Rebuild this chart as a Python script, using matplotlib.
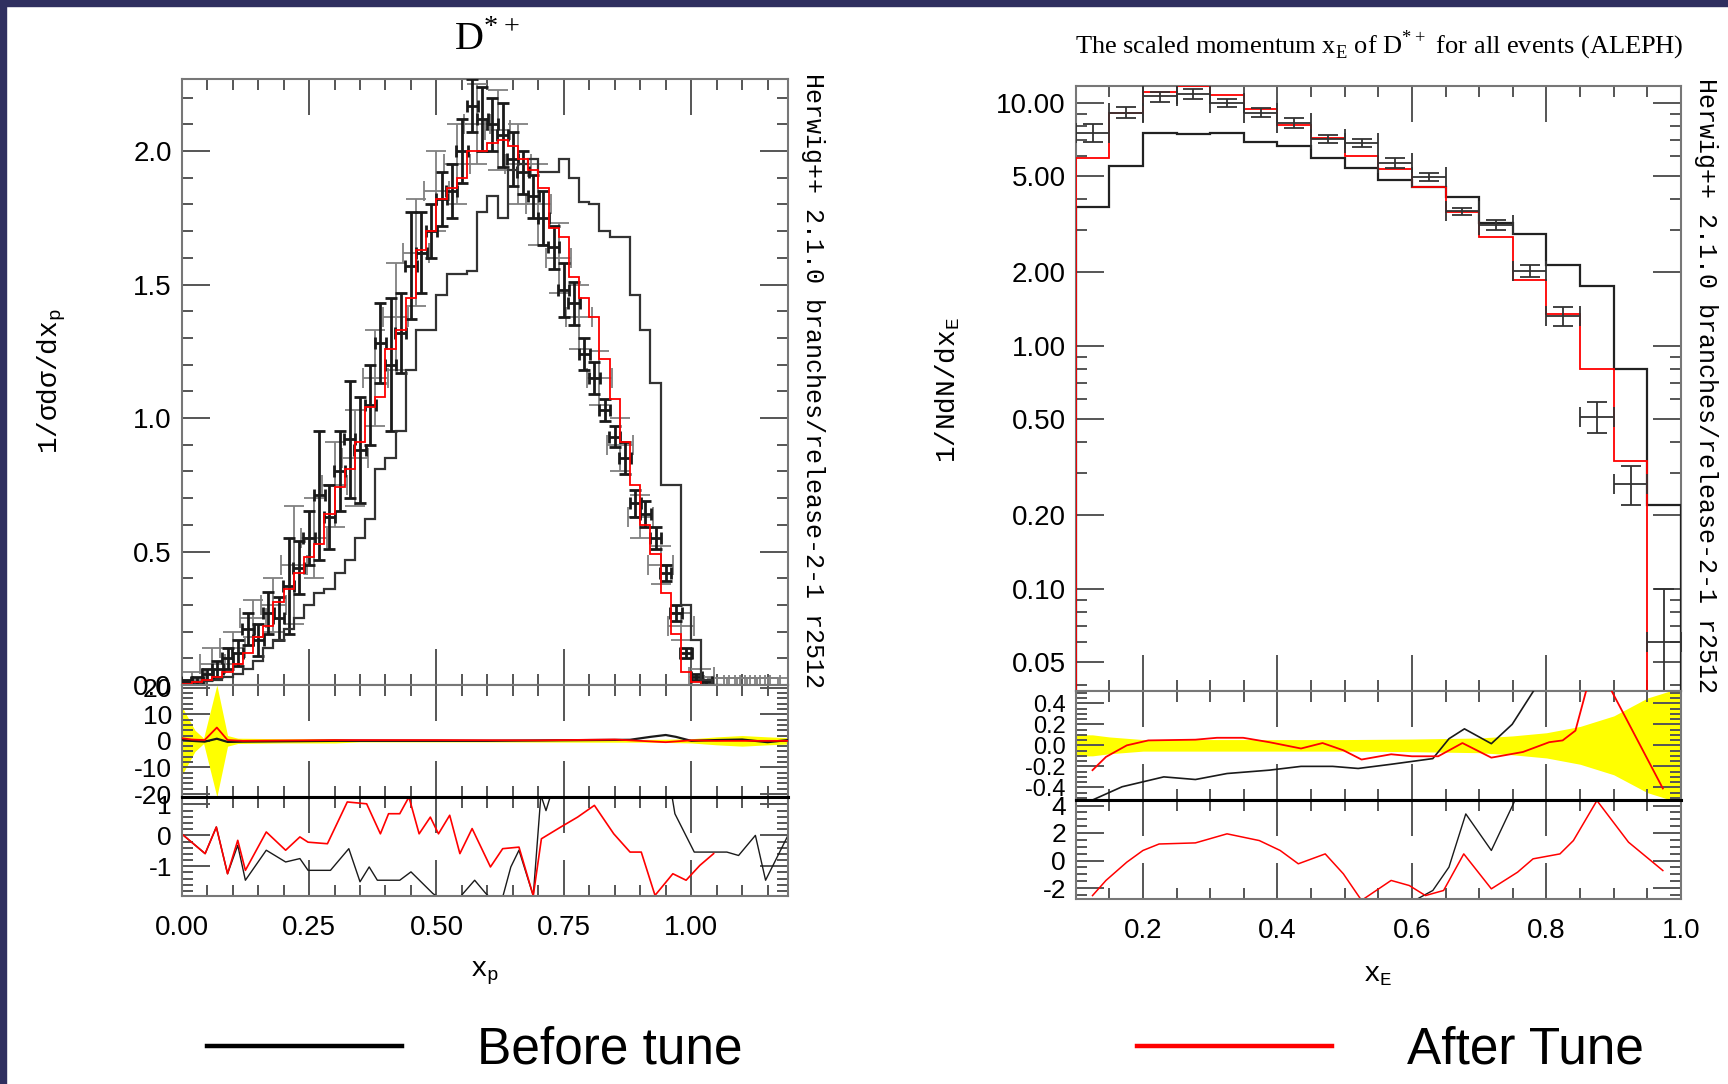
import numpy as np
import matplotlib
matplotlib.use('Agg')
import matplotlib.pyplot as plt
from matplotlib.patches import Rectangle
from matplotlib.lines import Line2D
from matplotlib.ticker import MultipleLocator, FixedLocator, FormatStrFormatter, NullFormatter

plt.rcParams['font.family'] = ['Liberation Sans Narrow', 'Liberation Sans', 'DejaVu Sans']
plt.rcParams['mathtext.fontset'] = 'custom'
plt.rcParams['mathtext.rm'] = 'Liberation Serif'
plt.rcParams['mathtext.tt'] = 'Liberation Mono'

W, H = 1728, 1084
NAVY = '#2f2f5f'
RED = '#ff0000'
DARK = '#1a1a1a'

# ---- left panel: D*+ x_p ----
xp_width = 0.02
xp_after = [0.005, 0.01, 0.02, 0.03, 0.05, 0.08, 0.12, 0.18, 0.22, 0.31,
            0.36, 0.42, 0.48, 0.53, 0.64, 0.74, 0.81, 0.91, 1.04, 1.08,
            1.26, 1.33, 1.45, 1.63, 1.70, 1.82, 1.86, 1.90, 2.00, 2.00,
            2.03, 2.04, 2.02, 1.97, 1.93, 1.86, 1.71, 1.68, 1.53, 1.45,
            1.38, 1.22, 1.07, 0.91, 0.75, 0.60, 0.49, 0.345, 0.19, 0.05,
            0.01, 0.0, 0.0]
xp_before = [0.005, 0.01, 0.015, 0.02, 0.03, 0.04, 0.06, 0.09, 0.14, 0.17,
             0.21, 0.25, 0.30, 0.345, 0.36, 0.42, 0.47, 0.55, 0.62, 0.81,
             0.85, 0.95, 1.18, 1.33, 1.33, 1.46, 1.54, 1.54, 1.55, 1.77,
             1.83, 1.75, 1.93, 1.95, 1.97, 1.92, 1.92, 1.97, 1.90, 1.81,
             1.80, 1.70, 1.68, 1.68, 1.46, 1.33, 1.13, 0.75, 0.75, 0.30,
             0.17, 0.02, 0.0]

xp_data_a_x = [0.01, 0.03, 0.05, 0.07, 0.09, 0.11, 0.13, 0.15, 0.17, 0.19,
               0.21, 0.23, 0.25, 0.27, 0.29, 0.31, 0.33, 0.35, 0.37, 0.39,
               0.41, 0.43, 0.45, 0.47, 0.49, 0.51, 0.53, 0.55, 0.57, 0.59,
               0.61, 0.63, 0.65, 0.67, 0.69, 0.71, 0.73, 0.75, 0.77, 0.79,
               0.81, 0.83, 0.85, 0.87, 0.89, 0.91, 0.93, 0.95, 0.97, 0.99,
               1.01, 1.03]
xp_data_a_y = [0.01, 0.01, 0.04, 0.06, 0.10, 0.12, 0.21, 0.17, 0.27, 0.25,
               0.37, 0.44, 0.55, 0.71, 0.63, 0.80, 0.92, 0.88, 1.05, 1.28,
               1.20, 1.32, 1.57, 1.62, 1.70, 1.82, 1.85, 2.00, 2.17, 2.12,
               2.10, 2.06, 1.97, 1.92, 1.83, 1.75, 1.64, 1.48, 1.43, 1.24,
               1.15, 1.03, 0.93, 0.85, 0.68, 0.64, 0.55, 0.42, 0.27, 0.12,
               0.03, 0.01]
xp_data_a_err = [0.01, 0.02, 0.02, 0.03, 0.04, 0.05, 0.06, 0.06, 0.08, 0.08,
                 0.18, 0.10, 0.10, 0.24, 0.12, 0.15, 0.22, 0.20, 0.15, 0.15,
                 0.25, 0.15, 0.20, 0.15, 0.10, 0.10, 0.10, 0.12, 0.10, 0.12,
                 0.10, 0.12, 0.10, 0.08, 0.08, 0.10, 0.08, 0.10, 0.08, 0.06,
                 0.06, 0.04, 0.04, 0.06, 0.05, 0.05, 0.04, 0.03, 0.03, 0.02,
                 0.01, 0.01]

xp_data_b_x = [0.02, 0.06, 0.10, 0.14, 0.18, 0.22, 0.26, 0.30, 0.34, 0.38,
               0.42, 0.46, 0.50, 0.54, 0.58, 0.62, 0.66, 0.70, 0.74, 0.78,
               0.82, 0.86, 0.90, 0.94, 0.98, 1.02, 1.05, 1.07, 1.09, 1.11,
               1.13, 1.15, 1.17]
xp_data_b_y = [0.02, 0.08, 0.14, 0.25, 0.30, 0.45, 0.55, 0.75, 0.85, 1.15,
               1.38, 1.62, 1.85, 1.95, 2.10, 2.08, 1.95, 1.80, 1.60, 1.38,
               1.15, 0.90, 0.63, 0.45, 0.22, 0.03, 0.0, 0.0, 0.0, 0.0,
               0.0, 0.0, 0.0]
xp_data_b_err = [0.03, 0.06, 0.06, 0.07, 0.10, 0.22, 0.15, 0.16, 0.18, 0.18,
                 0.20, 0.20, 0.15, 0.15, 0.15, 0.15, 0.15, 0.15, 0.13, 0.12,
                 0.10, 0.10, 0.08, 0.07, 0.05, 0.03, 0.025, 0.025, 0.025, 0.025,
                 0.025, 0.025, 0.025]

# ratio (MC-data)/data, left
xp_band_x = [0.0, 0.026, 0.043, 0.069, 0.09, 0.11, 0.2, 0.3, 0.35, 0.6,
             0.8, 0.9, 0.95, 1.0, 1.05, 1.1, 1.15, 1.19]
xp_band_hw = [13, 4, 1, 21, 2, 1.0, 0.8, 0.8, 0.4, 0.4,
              0.5, 0.5, 0.6, 0.8, 1.5, 2.0, 1.5, 1.2]
xp_r1_after_x = [0.0, 0.02, 0.045, 0.069, 0.09, 0.12, 0.3, 0.5, 0.7, 0.85,
                 0.9, 0.95, 1.0, 1.05, 1.19]
xp_r1_after_y = [1.0, 0.5, 0.3, 5.0, 0.3, 0.0, 0.3, 0.3, 0.2, 0.5,
                 0.0, -0.5, 0.2, 0.0, 0.0]
xp_r1_before_x = [0.0, 0.02, 0.045, 0.069, 0.09, 0.12, 0.3, 0.6, 0.8, 0.88,
                  0.92, 0.95, 0.97, 1.0, 1.05, 1.1, 1.15, 1.19]
xp_r1_before_y = [0.5, 0.0, -0.3, 0.8, -0.4, -0.3, 0.0, 0.0, 0.3, 0.4,
                  1.5, 2.2, 1.5, 0.0, 0.3, 0.5, -0.5, 0.3]

# pull (MC-data)/error, left
xp_r2_after_x = [0.0, 0.046, 0.068, 0.09, 0.11, 0.125, 0.166, 0.204, 0.232, 0.248,
                 0.286, 0.325, 0.363, 0.39, 0.406, 0.428, 0.446, 0.466, 0.488, 0.504,
                 0.526, 0.546, 0.57, 0.606, 0.63, 0.662, 0.69, 0.706, 0.744, 0.777,
                 0.81, 0.848, 0.88, 0.902, 0.929, 0.964, 0.99, 1.017, 1.044]
xp_r2_after_y = [0.05, -0.59, 0.27, -1.24, -0.16, -1.13, 0.11, -0.48, -0.05, -0.22,
                 -0.27, 1.08, 1.02, 0.05, 0.7, 0.7, 1.24, 0.05, 0.59, 0.05,
                 0.65, -0.59, 0.22, -1.02, -0.43, -0.38, -1.95, -0.11, 0.27, 0.59,
                 0.97, 0.05, -0.54, -0.54, -1.94, -1.24, -1.45, -0.97, -0.59]
xp_r2_before_x = [0.0, 0.046, 0.068, 0.09, 0.11, 0.125, 0.166, 0.204, 0.232, 0.248,
                  0.292, 0.328, 0.35, 0.368, 0.384, 0.428, 0.45, 0.493, 0.53, 0.575,
                  0.597, 0.625, 0.646, 0.662, 0.69, 0.705, 0.715, 0.728, 0.75, 0.95,
                  0.968, 1.006, 1.07, 1.093, 1.126, 1.146, 1.19]
xp_r2_before_y = [0.05, -0.59, 0.27, -1.24, -0.32, -1.45, -0.48, -0.86, -0.75, -1.13,
                  -1.13, -0.43, -1.5, -1.02, -1.45, -1.45, -1.18, -1.88, -2.3, -1.45,
                  -1.88, -2.3, -1.02, -0.48, -1.95, 1.3, 0.8, 1.5, 2.5, 2.5,
                  0.7, -0.54, -0.54, -0.65, 0.0, -1.45, 0.0]

# ---- right panel: ALEPH x_E ----
xe_edges = [0.10, 0.15, 0.20, 0.25, 0.30, 0.35, 0.40, 0.45, 0.50, 0.55,
            0.60, 0.65, 0.70, 0.75, 0.80, 0.85, 0.90, 0.95, 1.00]
xe_data = [7.5, 9.1, 10.6, 10.85, 9.95, 9.1, 8.25, 7.08, 6.81, 5.65,
           4.95, 3.57, 3.14, 2.03, 1.32, 0.51, 0.27, 0.06]
xe_err = [0.65, 0.5, 0.5, 0.5, 0.35, 0.4, 0.4, 0.25, 0.25, 0.25,
          0.2, 0.12, 0.15, 0.12, 0.12, 0.075, 0.05, 0.04]
xe_after = [5.9, 9.1, 11.1, 11.7, 10.7, 9.44, 8.1, 7.17, 6.02, 5.33,
            4.5, 3.55, 2.81, 1.86, 1.35, 0.80, 0.334, 0.01]
xe_before = [3.7, 5.5, 7.5, 7.4, 7.5, 6.9, 6.6, 5.9, 5.4, 4.8,
             4.5, 4.07, 3.2, 2.88, 2.15, 1.76, 0.80, 0.22]

xe_band_x = [0.10, 0.125, 0.15, 0.2, 0.3, 0.5, 0.6, 0.7, 0.75, 0.8,
             0.85, 0.9, 0.95, 1.0]
xe_band_hw = [0.10, 0.10, 0.08, 0.055, 0.055, 0.055, 0.06, 0.07, 0.09, 0.12,
              0.18, 0.28, 0.45, 0.55]
xe_r1_after_x = [0.125, 0.145, 0.176, 0.208, 0.278, 0.31, 0.349, 0.388, 0.435, 0.467,
                 0.498, 0.525, 0.569, 0.6, 0.639, 0.675, 0.718, 0.765, 0.804, 0.824,
                 0.843, 0.859, 0.89, 0.92, 0.973]
xe_r1_after_y = [-0.236, -0.11, 0.0, 0.047, 0.054, 0.072, 0.072, 0.03, -0.03, 0.022,
                 -0.047, -0.135, -0.085, -0.104, -0.104, 0.022, -0.117, -0.063, 0.03, 0.047,
                 0.14, 0.52, 0.6, 0.236, -0.41]
xe_r1_before_x = [0.125, 0.169, 0.231, 0.278, 0.325, 0.388, 0.435, 0.482, 0.52, 0.569,
                  0.631, 0.655, 0.678, 0.718, 0.749, 0.784]
xe_r1_before_y = [-0.52, -0.394, -0.3, -0.325, -0.268, -0.236, -0.2, -0.2, -0.22, -0.18,
                  -0.126, 0.063, 0.157, 0.016, 0.2, 0.55]
xe_r2_after_x = [0.125, 0.145, 0.176, 0.2, 0.224, 0.278, 0.325, 0.373, 0.404, 0.431,
                 0.471, 0.498, 0.525, 0.569, 0.596, 0.62, 0.647, 0.677, 0.718, 0.757,
                 0.78, 0.82, 0.84, 0.875, 0.922, 0.973]
xe_r2_after_y = [-2.55, -1.45, -0.12, 0.73, 1.2, 1.28, 1.94, 1.45, 0.73, -0.24,
                 0.48, -0.97, -2.9, -1.45, -1.82, -2.55, -2.18, 0.48, -2.06, -0.85,
                 0.12, 0.48, 1.45, 4.36, 1.33, -0.73]
xe_r2_before_x = [0.59, 0.604, 0.631, 0.655, 0.68, 0.718, 0.753, 0.77]
xe_r2_before_y = [-3.5, -2.9, -2.18, -0.48, 3.39, 0.73, 4.36, 6.0]

HERWIG = 'Herwig++ 2.1.0 branches/release-2-1 r2512'


def rect(x0, x1, y0, y1):
    return [x0 / W, 1 - y1 / H, (x1 - x0) / W, (y1 - y0) / H]


def style(ax, xmaj, xmin, ymaj=None, ymin=None, yfmt='%.1f', xfmt=None, ysize=20):
    ax.tick_params(which='both', direction='in', top=True, right=True,
                   color='#555555', width=1.4, labelsize=20, pad=7)
    ax.tick_params(axis='y', labelsize=ysize)
    ax.tick_params(axis='x', which='major', length=26, pad=14)
    ax.tick_params(axis='y', which='major', length=20)
    ax.tick_params(which='minor', length=8)
    ax.xaxis.set_major_locator(MultipleLocator(xmaj))
    ax.xaxis.set_minor_locator(MultipleLocator(xmin))
    if xfmt:
        ax.xaxis.set_major_formatter(FormatStrFormatter(xfmt))
    else:
        ax.xaxis.set_major_formatter(NullFormatter())
    if ymaj is not None:
        ax.yaxis.set_major_locator(MultipleLocator(ymaj))
        ax.yaxis.set_minor_locator(MultipleLocator(ymin))
        ax.yaxis.set_major_formatter(FormatStrFormatter(yfmt))
    for s in ax.spines.values():
        s.set_color('#777777')
        s.set_linewidth(1.5)


fig = plt.figure(figsize=(W / 100, H / 100), dpi=100, facecolor='white')
fig.add_artist(Rectangle((0, 1 - 6 / H), 1, 6 / H, transform=fig.transFigure,
                         color=NAVY, zorder=0))
fig.add_artist(Rectangle((0, 0), 6 / W, 1, transform=fig.transFigure,
                         color=NAVY, zorder=0))

# ===== left =====
axl = fig.add_axes(rect(181.7, 788, 79, 685))
axl1 = fig.add_axes(rect(181.7, 788, 685, 796.7))
axl2 = fig.add_axes(rect(181.7, 788, 796.7, 895.7))

xp_edges = np.round(np.arange(len(xp_after) + 1) * xp_width, 3)
axl.errorbar(xp_data_b_x, xp_data_b_y, yerr=xp_data_b_err, xerr=0.025, fmt='none',
             ecolor='#808080', elinewidth=1.3, capsize=7, capthick=1.3, zorder=2)
axl.errorbar(xp_data_a_x, xp_data_a_y, yerr=xp_data_a_err, xerr=0.011, fmt='none',
             ecolor=DARK, elinewidth=2.0, capsize=4, capthick=2.0, zorder=3)
axl.stairs(xp_before, xp_edges, color='#333333', lw=1.6, zorder=4)
axl.stairs(xp_after, xp_edges, color=RED, lw=1.3, zorder=5)
axl.set_xlim(0, 1.19)
axl.set_ylim(0, 2.27)
style(axl, 0.25, 0.05, 0.5, 0.1, '%.1f')

axl1.fill_between(xp_band_x, [-v for v in xp_band_hw], xp_band_hw, color='#ffff00',
                  lw=0, zorder=1)
axl1.plot(xp_r1_before_x, xp_r1_before_y, color=DARK, lw=1.6, zorder=3)
axl1.plot(xp_r1_after_x, xp_r1_after_y, color=RED, lw=1.3, zorder=4)
axl1.set_xlim(0, 1.19)
axl1.set_ylim(-21, 21)
style(axl1, 0.25, 0.05, 10, 2, '%d', ysize=19)

axl2.plot(xp_r2_before_x, xp_r2_before_y, color=DARK, lw=1.0)
axl2.plot(xp_r2_after_x, xp_r2_after_y, color=RED, lw=1.2)
axl2.set_xlim(0, 1.19)
axl2.set_ylim(-1.95, 1.25)
style(axl2, 0.25, 0.05, 1, 0.2, '%d', xfmt='%.2f', ysize=19)
axl2.spines['top'].set_color('black')
axl2.spines['top'].set_linewidth(2.2)

fig.text(487 / W, 1 - 40 / H, r'D$^{*+}$', family='Liberation Serif', fontsize=29,
         ha='center', va='center')
fig.text(52 / W, 1 - 381 / H, r'1/σdσ/dx$_\mathtt{p}$', family='Liberation Mono',
         fontsize=20, rotation=90, ha='center', va='center')
fig.text(485 / W, 1 - 973 / H, r'x$_\mathtt{p}$', family='Liberation Mono',
         fontsize=20, ha='center', va='center')
fig.text(813 / W, 1 - 73 / H, HERWIG, family='Liberation Mono', fontsize=18,
         rotation=-90, ha='center', va='top')

# ===== right =====
axr = fig.add_axes(rect(1075.7, 1681, 86, 690.7))
axr1 = fig.add_axes(rect(1075.7, 1681, 690.7, 800))
axr2 = fig.add_axes(rect(1075.7, 1681, 800, 899))

xe_centers = [(a + b) / 2 for a, b in zip(xe_edges[:-1], xe_edges[1:])]
axr.set_yscale('log')
axr.stairs(xe_before, xe_edges, baseline=1e-3, color='#222222', lw=1.6, zorder=3)
axr.stairs(xe_after, xe_edges, baseline=1e-3, color=RED, lw=1.3, zorder=4)
axr.errorbar(xe_centers, xe_data, yerr=xe_err, xerr=0.025, fmt='none',
             ecolor='#333333', elinewidth=1.3, capsize=7, capthick=1.3, zorder=5)
axr.set_xlim(0.1, 1.0)
axr.set_ylim(0.038, 11.7)
style(axr, 0.2, 0.05)
log_major = [0.05, 0.1, 0.2, 0.5, 1, 2, 5, 10]
log_minor = [m * d for d in (0.01, 0.1, 1) for m in (3, 4, 6, 7, 8, 9)]
axr.yaxis.set_major_locator(FixedLocator(log_major))
axr.yaxis.set_minor_locator(FixedLocator(log_minor))
axr.yaxis.set_major_formatter(FormatStrFormatter('%.2f'))
axr.yaxis.set_minor_formatter(NullFormatter())

axr1.fill_between(xe_band_x, [-v for v in xe_band_hw], xe_band_hw, color='#ffff00',
                  lw=0, zorder=1)
axr1.plot(xe_r1_before_x, xe_r1_before_y, color=DARK, lw=1.2, zorder=3)
axr1.plot(xe_r1_after_x, xe_r1_after_y, color=RED, lw=1.3, zorder=4)
axr1.set_xlim(0.1, 1.0)
axr1.set_ylim(-0.52, 0.52)
style(axr1, 0.2, 0.05, 0.2, 0.05, '%.1f', ysize=17)

axr2.plot(xe_r2_before_x, xe_r2_before_y, color=DARK, lw=1.0)
axr2.plot(xe_r2_after_x, xe_r2_after_y, color=RED, lw=1.1)
axr2.set_xlim(0.1, 1.0)
axr2.set_ylim(-2.8, 4.4)
style(axr2, 0.2, 0.05, 2, 0.5, '%d', xfmt='%.1f', ysize=19)
axr2.spines['top'].set_color('black')
axr2.spines['top'].set_linewidth(2.2)

fig.text(1379 / W, 1 - 45 / H,
         r'The scaled momentum x$_\mathrm{E}$ of D$^{*+}$ for all events (ALEPH)',
         family='Liberation Serif', fontsize=19, ha='center', va='center')
fig.text(948 / W, 1 - 390 / H, r'1/NdN/dx$_\mathtt{E}$', family='Liberation Mono',
         fontsize=20, rotation=90, ha='center', va='center')
fig.text(1378 / W, 1 - 975 / H, r'x$_\mathtt{E}$', family='Liberation Mono',
         fontsize=20, ha='center', va='center')
fig.text(1706 / W, 1 - 78 / H, HERWIG, family='Liberation Mono', fontsize=18,
         rotation=-90, ha='center', va='top')

# ===== legend entries at the bottom =====
leg_font = {'family': 'Liberation Sans', 'size': 37}
for label, color, x0 in [('Before tune', 'black', 207), ('After Tune', RED, 1137)]:
    h = Line2D([], [], color=color, lw=3.2)
    fig.legend([h], [label], loc='center left', bbox_to_anchor=(x0 / W, 1 - 1050 / H),
               frameon=False, prop=leg_font, handlelength=3.8, handletextpad=1.45,
               borderpad=0, borderaxespad=0)

fig.savefig('out.png', dpi=100, facecolor=fig.get_facecolor())
